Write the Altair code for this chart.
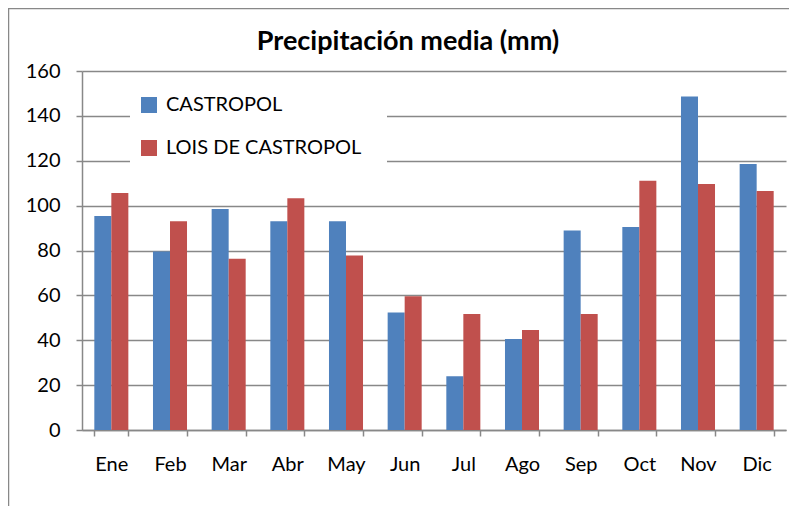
import altair as alt
import pandas as pd

# ---- data ----
months = ["Ene", "Feb", "Mar", "Abr", "May", "Jun", "Jul", "Ago", "Sep", "Oct", "Nov", "Dic"]
castropol = [95.4, 79.6, 98.5, 93.0, 93.0, 52.4, 23.9, 40.6, 88.9, 90.5, 148.6, 118.5]
lois = [105.6, 93.0, 76.3, 103.3, 77.8, 59.6, 51.7, 44.6, 51.7, 111.1, 109.6, 106.5]
series_names = ["CASTROPOL", "LOIS DE CASTROPOL"]
series_colors = ["#4F81BD", "#C0504D"]
y_ticks = [0, 20, 40, 60, 80, 100, 120, 140, 160]
title_text = "Precipitación media (mm)"

rows = []
for m, a, b in zip(months, castropol, lois):
    rows.append({"mes": m, "serie": series_names[0], "valor": a})
    rows.append({"mes": m, "serie": series_names[1], "valor": b})
df = pd.DataFrame(rows)

W, H = 704, 359
FONT = "Lato"
GRID = "#888888"

one = pd.DataFrame({"k": [0]})

# white box behind the legend (hides the gridlines there)
legend_box = alt.Chart(one).mark_rect(color="white").encode(
    x=alt.value(48), x2=alt.value(305), y=alt.value(14), y2=alt.value(97)
)

bars = alt.Chart(df).mark_bar().encode(
    x=alt.X(
        "mes:N",
        sort=months,
        scale=alt.Scale(paddingInner=0.42, paddingOuter=0.21),
        axis=alt.Axis(title=None, labelAngle=0, tickBand="extent", grid=False,
                      labelPadding=18),
    ),
    xOffset=alt.XOffset("serie:N", sort=series_names,
                        scale=alt.Scale(paddingInner=0, paddingOuter=0)),
    y=alt.Y(
        "valor:Q",
        scale=alt.Scale(domain=[0, 160], nice=False, zero=True),
        axis=alt.Axis(values=y_ticks, title=None, grid=True, labelPadding=16),
    ),
    color=alt.Color(
        "serie:N",
        sort=series_names,
        scale=alt.Scale(domain=series_names, range=series_colors),
        legend=alt.Legend(
            title=None, orient="none", legendX=48, legendY=15,
            symbolType="square", symbolSize=256, symbolStrokeWidth=0,
            labelFont=FONT, labelFontSize=20, labelColor="black", labelLimit=0,
            rowPadding=23, labelOffset=7, padding=9,
        ),
    ),
)

# chart title as a text layer (kept clear of the frame lines)
title = alt.Chart(pd.DataFrame({"t": [title_text]})).mark_text(
    font=FONT, fontSize=27, fontWeight="bold", color="black",
    align="center", baseline="alphabetic",
).encode(text="t:N", x=alt.value(326), y=alt.value(-21))

# outer chart frame (top and left edges visible in the reference)
frame_top = alt.Chart(one).mark_rule(color=GRID, strokeWidth=1.5).encode(
    x=alt.value(-74), x2=alt.value(W + 3), y=alt.value(-62.5)
)
frame_left = alt.Chart(one).mark_rule(color=GRID, strokeWidth=1.5).encode(
    x=alt.value(-73.5), y=alt.value(-63), y2=alt.value(H + 80)
)

chart = alt.layer(legend_box, bars, title, frame_top, frame_left).properties(
    width=W,
    height=H,
    autosize=alt.AutoSizeParams(type="none"),
    padding={"left": 74, "top": 63, "right": 3, "bottom": 76},
).configure_view(stroke=None).configure_axis(
    domainColor=GRID, domainWidth=1.5, tickColor=GRID, tickWidth=1.5, tickSize=6,
    gridColor=GRID, gridWidth=1.5, labelFont=FONT, labelFontSize=20, labelColor="black",
).configure_legend(fillColor=None)

chart.save("out.html", embed_options={"renderer": "svg", "actions": False})
